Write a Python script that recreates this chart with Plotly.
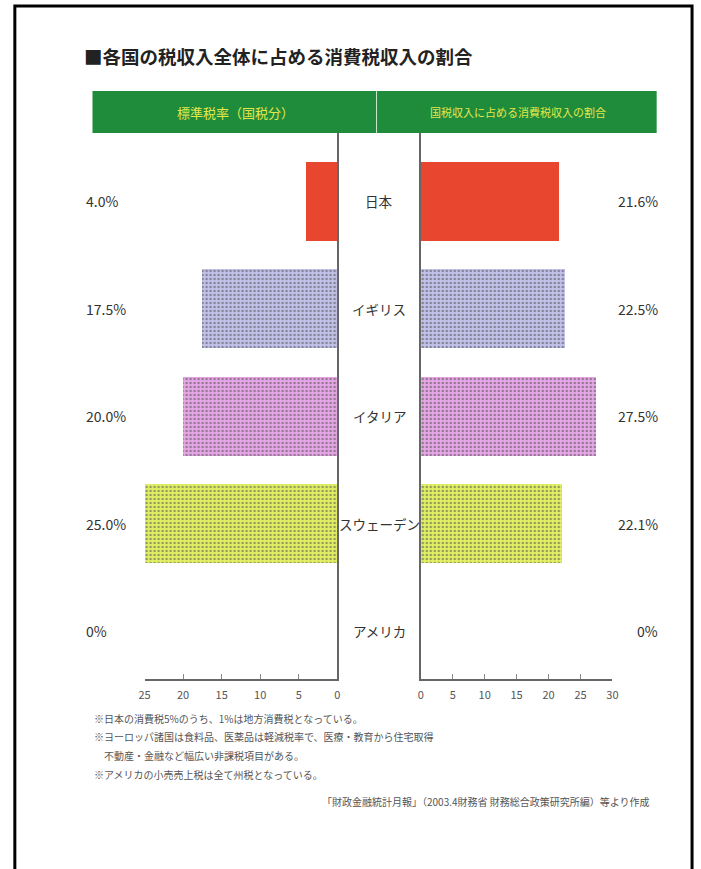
import plotly.graph_objects as go

# ---- data ----
countries = ["日本", "イギリス", "イタリア", "スウェーデン", "アメリカ"]
standard_rate = [4.0, 17.5, 20.0, 25.0, 0.0]          # 標準税率（国税分）
share_of_revenue = [21.6, 22.5, 27.5, 22.1, 0.0]      # 国税収入に占める消費税収入の割合
left_ticks = [0, 5, 10, 15, 20, 25]
right_ticks = [0, 5, 10, 15, 20, 25, 30]

title = "■各国の税収入全体に占める消費税収入の割合"
header_left = "標準税率（国税分）"
header_right = "国税収入に占める消費税収入の割合"
notes = [
    "※日本の消費税5%のうち、1%は地方消費税となっている。",
    "※ヨーロッパ諸国は食料品、医薬品は軽減税率で、医療・教育から住宅取得",
    "　不動産・金融など幅広い非課税項目がある。",
    "※アメリカの小売売上税は全て州税となっている。",
]
source = "「財政金融統計月報」（2003.4財務省 財務総合政策研究所編）等より作成"

# ---- style ----
bar_colors = ["#e8462f", "#c2c2ea", "#e6a8e6", "#e2f066", "#ffffff"]
dot_colors = ["#e8462f", "#9898cc", "#c888cc", "#c4d44a", "#ffffff"]
dot_shapes = ["", ".", ".", ".", ""]
FONT = "Noto Sans CJK JP"
W, H = 701, 869


def px(x):
    return x / W


def py(y):
    return 1 - y / H


def fmt(v):
    return "0%" if v == 0 else f"{v:.1f}%"


fig = go.Figure()
pattern = dict(shape=dot_shapes, fgcolor=dot_colors, bgcolor=bar_colors,
               size=4, solidity=0.3, fillmode="overlay")
fig.add_trace(go.Bar(x=standard_rate, y=countries, orientation="h",
                     xaxis="x", yaxis="y", width=0.735,
                     marker=dict(color=bar_colors, line=dict(width=0), pattern=pattern),
                     hoverinfo="skip", showlegend=False))
fig.add_trace(go.Bar(x=share_of_revenue, y=countries, orientation="h",
                     xaxis="x2", yaxis="y2", width=0.735,
                     marker=dict(color=bar_colors, line=dict(width=0), pattern=pattern),
                     hoverinfo="skip", showlegend=False))

yrange = [4.442, -0.637]
axis_common = dict(showgrid=False, zeroline=False, showline=True, linecolor="#666",
                   linewidth=1.5, ticks="inside", ticklen=5, tickcolor="#888",
                   ticklabelstandoff=5,
                   tickfont=dict(family=FONT, size=11, color="#555"), fixedrange=True)

fig.update_layout(
    width=W, height=H, margin=dict(l=0, r=0, t=0, b=0),
    paper_bgcolor="white", plot_bgcolor="rgba(0,0,0,0)",
    font=dict(family=FONT),
    bargap=0,
    xaxis=dict(domain=[px(141), px(337)], range=[25, 0], tickvals=left_ticks,
               anchor="y", **axis_common),
    xaxis2=dict(domain=[px(422), px(617)], range=[0, 30], tickvals=right_ticks,
                anchor="y2", **axis_common),
    yaxis=dict(domain=[py(679), py(133)], range=yrange, type="category",
               categoryorder="array", categoryarray=countries, anchor="x",
               side="right", showline=True, linecolor="#666", linewidth=1.5,
               showticklabels=False, ticks="", showgrid=False, zeroline=False,
               fixedrange=True),
    yaxis2=dict(domain=[py(679), py(133)], range=yrange, type="category",
                categoryorder="array", categoryarray=countries, anchor="x2",
                side="left", showline=True, linecolor="#666", linewidth=1.5,
                showticklabels=False, ticks="", showgrid=False, zeroline=False,
                fixedrange=True),
)

shapes = [
    # outer frame
    dict(type="rect", xref="paper", yref="paper", x0=px(9), x1=px(698),
         y0=py(880), y1=py(6), line=dict(color="black", width=3),
         fillcolor="rgba(0,0,0,0)"),
    # green header
    dict(type="rect", xref="paper", yref="paper", x0=px(88), x1=px(662),
         y0=py(133), y1=py(91), line=dict(width=0), fillcolor="#1f8c3b"),
    dict(type="line", xref="paper", yref="paper", x0=px(377), x1=px(377),
         y0=py(133), y1=py(91), line=dict(color="#cfe8cf", width=1)),
]
fig.update_layout(shapes=shapes)

ann = []
ann.append(dict(text=f"<b>{title}</b>", x=px(77), y=py(56), xref="paper", yref="paper",
                xanchor="left", yanchor="middle", showarrow=False,
                font=dict(family=FONT, size=18.5, color="#222")))
ann.append(dict(text=header_left, x=px(234), y=py(112), xref="paper", yref="paper",
                xanchor="center", yanchor="middle", showarrow=False,
                font=dict(family=FONT, size=13, color="#e4e64a")))
ann.append(dict(text=header_right, x=px(521), y=py(112), xref="paper", yref="paper",
                xanchor="center", yanchor="middle", showarrow=False,
                font=dict(family=FONT, size=11, color="#e4e64a")))
for c, lv, rv in zip(countries, standard_rate, share_of_revenue):
    ann.append(dict(text=c, x=px(379.5), y=c, xref="paper", yref="y",
                    xanchor="center", yanchor="middle", showarrow=False,
                    font=dict(family=FONT, size=13.5, color="#333")))
    ann.append(dict(text=fmt(lv), x=px(79), y=c, xref="paper", yref="y",
                    xanchor="left", yanchor="middle", showarrow=False,
                    font=dict(family=FONT, size=14, color="#333")))
    ann.append(dict(text=fmt(rv), x=px(665), y=c, xref="paper", yref="y",
                    xanchor="right", yanchor="middle", showarrow=False,
                    font=dict(family=FONT, size=14, color="#333")))
for i, n in enumerate(notes):
    ann.append(dict(text=n, x=px(88), y=py(718 + i * 18.7), xref="paper", yref="paper",
                    xanchor="left", yanchor="middle", showarrow=False,
                    font=dict(family=FONT, size=10, color="#555")))
ann.append(dict(text=source, x=px(657), y=py(801), xref="paper", yref="paper",
                xanchor="right", yanchor="middle", showarrow=False,
                font=dict(family=FONT, size=10, color="#555")))
fig.update_layout(annotations=ann)

fig.write_html(
    "out.html",
    config={"displayModeBar": False, "staticPlot": True},
    post_script="document.body.style.margin='0';document.body.style.overflow='hidden';",
)
